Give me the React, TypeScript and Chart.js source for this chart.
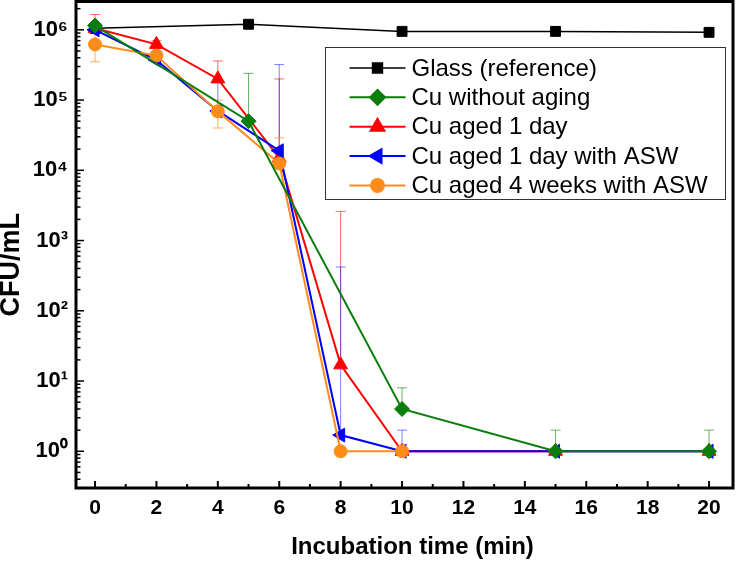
import React, { useEffect, useRef } from 'react';
import { Chart, registerables } from 'chart.js';
import { drawPoint } from 'chart.js/helpers';

Chart.register(...registerables);

// ---------- data ----------
const seriesNames = [
  'Glass (reference)',
  'Cu without aging',
  'Cu aged 1 day',
  'Cu aged 1 day with ASW',
  'Cu aged 4 weeks with ASW',
];

const glassX = [0, 5, 10, 15, 20];
const glassY = [1.05e6, 1.2e6, 0.95e6, 0.95e6, 0.92e6];

const noAgingX = [0, 5, 10, 15, 20];
const noAgingY = [1.15e6, 5e4, 4, 1, 1];
const noAgingErrUp = [null, 2.4e5, 8, 2, 2];

const aged1dX = [0, 2, 4, 6, 8, 10, 15, 20];
const aged1dY = [1.05e6, 6.2e5, 2e5, 1.5e4, 17, 1, 1, 1];
const aged1dErrUp = [1.65e6, 7e5, 3.6e5, 2e5, 2600, null, null, null];

const aged1dAswX = [0, 2, 4, 6, 8, 10, 15, 20];
const aged1dAswY = [1.0e6, 3.7e5, 7e4, 1.9e4, 1.7, 1, 1, 1];
const aged1dAswErrUp = [null, null, 1.8e5, 3.2e5, 420, 2, null, null];

const aged4wAswX = [0, 2, 4, 6, 8, 10];
const aged4wAswY = [6.2e5, 4.3e5, 6.9e4, 1.25e4, 1, 1];
const aged4wAswErrUp = [8.9e5, null, 1e5, 2.9e4, null, null];
const aged4wAswErrDown = [3.5e5, null, 4e4, null, null, null];

const xTickValues = [0, 2, 4, 6, 8, 10, 12, 14, 16, 18, 20];
const yTickExponents = [0, 1, 2, 3, 4, 5, 6];
const superscripts = ['⁰', '¹', '²', '³', '⁴', '⁵', '⁶'];

const xTitle = 'Incubation time (min)';
const yTitle = 'CFU/mL';

// ---------- styles ----------
const FONT = 'Arial, "Liberation Sans", sans-serif';

const seriesStyle = [
  { color: '#000000', err: 'rgba(0,0,0,0.6)', pointStyle: 'rect', radius: 7, rotation: 0, lineWidth: 1.5 },
  { color: '#0a7d0a', err: 'rgba(10,125,10,0.6)', pointStyle: 'rectRot', radius: 7.5, rotation: 0, lineWidth: 2 },
  { color: '#ff0000', err: 'rgba(255,0,0,0.6)', pointStyle: 'triangle', radius: 8, rotation: 0, lineWidth: 2 },
  { color: '#0000ff', err: 'rgba(0,0,255,0.5)', pointStyle: 'triangle', radius: 8, rotation: -90, lineWidth: 2 },
  { color: '#ff8c1a', err: 'rgba(255,140,26,0.7)', pointStyle: 'circle', radius: 6.5, rotation: 0, lineWidth: 2 },
];

const seriesX = [glassX, noAgingX, aged1dX, aged1dAswX, aged4wAswX];
const seriesY = [glassY, noAgingY, aged1dY, aged1dAswY, aged4wAswY];
const seriesErrUp: (number | null)[][] = [[], noAgingErrUp, aged1dErrUp, aged1dAswErrUp, aged4wAswErrUp];
const seriesErrDown: (number | null)[][] = [[], [], [], [], aged4wAswErrDown];
const drawOrder = [4, 0, 3, 2, 1];

const errorBarPlugin = {
  id: 'errorBars',
  beforeDatasetsDraw(chart: any) {
    const { ctx, scales } = chart;
    const xs = scales.x;
    const ys = scales.y;
    ctx.save();
    ctx.lineWidth = 1;
    seriesX.forEach((xArr, si) => {
      ctx.strokeStyle = seriesStyle[si].err;
      xArr.forEach((xv, i) => {
        const yv = seriesY[si][i];
        const px = xs.getPixelForValue(xv);
        const py = ys.getPixelForValue(yv);
        const up = seriesErrUp[si][i];
        const dn = seriesErrDown[si][i];
        [up, dn].forEach((ev) => {
          if (ev == null) return;
          const pe = ys.getPixelForValue(ev);
          ctx.beginPath();
          ctx.moveTo(px, py);
          ctx.lineTo(px, pe);
          ctx.moveTo(px - 5, pe);
          ctx.lineTo(px + 5, pe);
          ctx.stroke();
        });
      });
    });
    ctx.restore();
  },
};

const framePlugin = {
  id: 'frameTicks',
  afterDatasetsDraw(chart: any) {
    const { ctx, chartArea, scales } = chart;
    const { left, right, top, bottom } = chartArea;
    const xs = scales.x;
    const ys = scales.y;
    ctx.save();
    ctx.strokeStyle = '#000';
    ctx.lineWidth = 2;
    for (let v = 0; v <= 20; v++) {
      const px = xs.getPixelForValue(v);
      const len = v % 2 === 0 ? 7 : 4;
      ctx.beginPath();
      ctx.moveTo(px, bottom);
      ctx.lineTo(px, bottom - len);
      ctx.stroke();
    }
    ctx.lineWidth = 1.5;
    for (let e = -1; e <= 6; e++) {
      for (let m = 1; m <= 9; m++) {
        const v = m * Math.pow(10, e);
        if (v < ys.min || v > ys.max) continue;
        const py = ys.getPixelForValue(v);
        const len = m === 1 ? 8 : 4.5;
        ctx.beginPath();
        ctx.moveTo(left, py);
        ctx.lineTo(left + len, py);
        ctx.stroke();
      }
    }
    ctx.lineWidth = 3;
    ctx.strokeRect(left, top, right - left, bottom - top);

    ctx.fillStyle = '#000';
    ctx.textAlign = 'center';
    ctx.textBaseline = 'middle';
    ctx.font = `bold 24px ${FONT}`;
    ctx.fillText(xTitle, (left + right) / 2 + 8, 547);
    ctx.save();
    ctx.translate(12, (top + bottom) / 2 + 20);
    ctx.rotate(-Math.PI / 2);
    ctx.font = `bold 27px ${FONT}`;
    ctx.fillText(yTitle, 0, 0);
    ctx.restore();

    const boxL = 325.5;
    const boxT = 47.5;
    const boxW = 400;
    const boxH = 152;
    ctx.lineWidth = 1;
    ctx.strokeStyle = '#333';
    ctx.fillStyle = '#fff';
    ctx.fillRect(boxL, boxT, boxW, boxH);
    ctx.strokeRect(boxL, boxT, boxW, boxH);
    seriesNames.forEach((name, i) => {
      const st = seriesStyle[i];
      const cy = boxT + 20.5 + i * 29.35;
      ctx.strokeStyle = st.color;
      ctx.lineWidth = st.lineWidth;
      ctx.beginPath();
      ctx.moveTo(boxL + 24, cy);
      ctx.lineTo(boxL + 80, cy);
      ctx.stroke();
      ctx.fillStyle = st.color;
      ctx.strokeStyle = st.color;
      drawPoint(ctx, { pointStyle: st.pointStyle, rotation: st.rotation, radius: st.radius, borderWidth: 1 } as any, boxL + 52, cy);
      ctx.fillStyle = '#000';
      ctx.textAlign = 'left';
      ctx.textBaseline = 'middle';
      ctx.font = `24px ${FONT}`;
      ctx.fillText(name, boxL + 86, cy + 1);
    });
    ctx.restore();
  },
};

export default function App() {
  const canvasRef = useRef<HTMLCanvasElement | null>(null);

  useEffect(() => {
    const canvas = canvasRef.current;
    if (!canvas) return;
    const datasets = seriesNames.map((name, si) => ({
      label: name,
      data: seriesX[si].map((x, i) => ({ x, y: seriesY[si][i] })),
      borderColor: seriesStyle[si].color,
      backgroundColor: seriesStyle[si].color,
      pointBackgroundColor: seriesStyle[si].color,
      pointBorderColor: seriesStyle[si].color,
      pointBorderWidth: 1,
      borderWidth: seriesStyle[si].lineWidth,
      pointStyle: seriesStyle[si].pointStyle,
      pointRotation: seriesStyle[si].rotation,
      pointRadius: seriesStyle[si].radius,
      pointHoverRadius: seriesStyle[si].radius,
      tension: 0,
      clip: false,
      order: drawOrder[si],
    }));

    const chart = new Chart(canvas, {
      type: 'line',
      data: { datasets } as any,
      options: {
        animation: false,
        responsive: false,
        maintainAspectRatio: false,
        layout: { autoPadding: false, padding: { top: 1.5, right: 7, left: 0, bottom: 0 } },
        plugins: {
          legend: { display: false },
          tooltip: { enabled: false },
        },
        scales: {
          x: {
            type: 'linear',
            min: -0.62,
            max: 20.78,
            grid: { display: false, drawTicks: false },
            border: { display: false },
            afterBuildTicks: (s: any) => {
              s.ticks = xTickValues.map((v) => ({ value: v }));
            },
            afterFit: (s: any) => {
              s.height = 73;
              s.paddingLeft = 0;
              s.paddingRight = 0;
            },
            ticks: {
              padding: 8,
              color: '#000',
              font: { family: FONT, size: 21, weight: 'bold' },
              maxRotation: 0,
              callback: (v: any) => String(v),
            },
          },
          y: {
            type: 'logarithmic',
            min: 0.343,
            max: 2.53e6,
            grid: { display: false, drawTicks: false },
            border: { display: false },
            afterBuildTicks: (s: any) => {
              s.ticks = yTickExponents.map((e) => ({ value: Math.pow(10, e) }));
            },
            afterFit: (s: any) => {
              s.width = 76;
              s.paddingTop = 0;
              s.paddingBottom = 0;
            },
            ticks: {
              padding: 8,
              color: '#000',
              font: { family: FONT, size: 22, weight: 'bold' },
              callback: (v: any) => {
                const e = Math.round(Math.log10(Number(v)));
                return '10' + superscripts[e];
              },
            },
          },
        },
      },
      plugins: [errorBarPlugin, framePlugin],
    } as any);

    return () => chart.destroy();
  }, []);

  return (
    <div style={{ position: 'fixed', left: 0, top: 0, width: 740, height: 561, background: '#fff' }}>
      <canvas ref={canvasRef} width={740} height={561} style={{ display: 'block' }} />
    </div>
  );
}
